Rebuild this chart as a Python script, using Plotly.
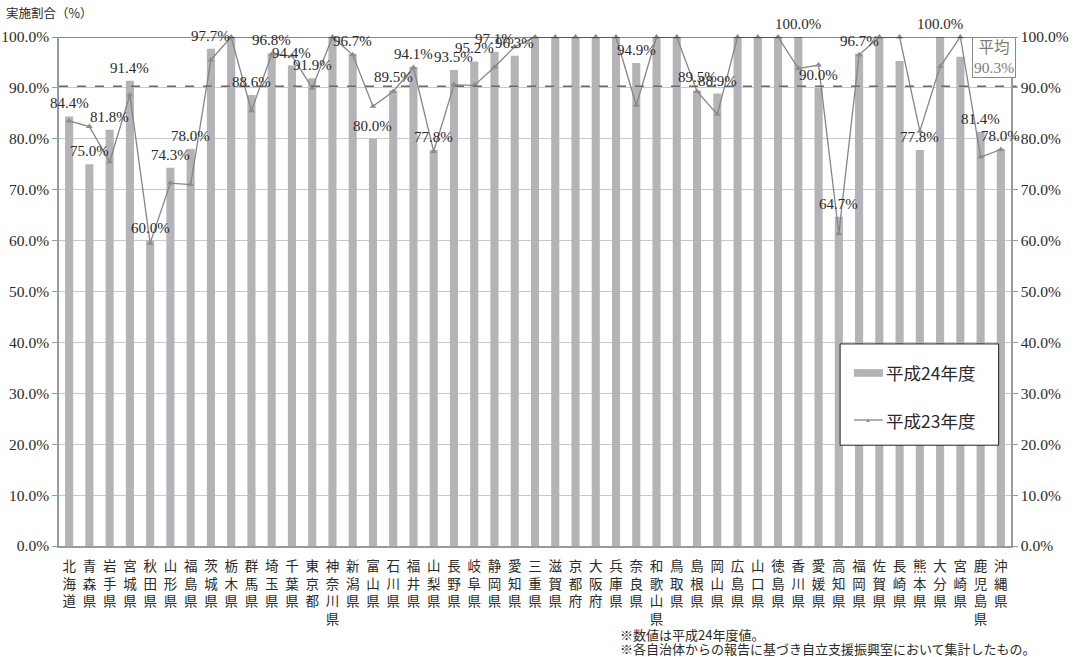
import plotly.graph_objects as go

# Prefectures (x-axis categories)
prefectures = [
    "北海道", "青森県", "岩手県", "宮城県", "秋田県", "山形県", "福島県", "茨城県",
    "栃木県", "群馬県", "埼玉県", "千葉県", "東京都", "神奈川県", "新潟県", "富山県",
    "石川県", "福井県", "山梨県", "長野県", "岐阜県", "静岡県", "愛知県", "三重県",
    "滋賀県", "京都府", "大阪府", "兵庫県", "奈良県", "和歌山県", "鳥取県", "島根県",
    "岡山県", "広島県", "山口県", "徳島県", "香川県", "愛媛県", "高知県", "福岡県",
    "佐賀県", "長崎県", "熊本県", "大分県", "宮崎県", "鹿児島県", "沖縄県",
]

# 平成24年度 implementation rate (%)
fy24 = [
    84.4, 75.0, 81.8, 91.4, 60.0, 74.3, 78.0, 97.7,
    100.0, 88.6, 96.8, 94.4, 91.9, 100.0, 96.7, 80.0,
    89.5, 94.1, 77.8, 93.5, 95.2, 97.1, 96.3, 100.0,
    100.0, 100.0, 100.0, 100.0, 94.9, 100.0, 100.0, 89.5,
    88.9, 100.0, 100.0, 100.0, 100.0, 90.0, 64.7, 96.7,
    100.0, 95.3, 77.8, 100.0, 96.1, 81.4, 78.0,
]

# 平成23年度 implementation rate (%)
fy23 = [
    83.5, 82.4, 75.5, 88.6, 59.5, 71.3, 71.0, 95.5,
    100.0, 85.5, 96.6, 96.3, 90.0, 100.0, 96.5, 86.4,
    89.3, 94.0, 77.5, 90.6, 90.5, 94.1, 98.1, 100.0,
    100.0, 100.0, 100.0, 100.0, 86.6, 100.0, 100.0, 89.3,
    84.8, 100.0, 100.0, 100.0, 93.8, 94.5, 61.4, 96.5,
    100.0, 100.0, 81.5, 94.2, 100.0, 76.4, 77.9,
]

# Which 平成24年度 bars carry a value label
labelled = [
    1, 1, 1, 1, 1, 1, 1, 1,
    0, 1, 1, 1, 1, 0, 1, 1,
    1, 1, 1, 1, 1, 1, 1, 0,
    0, 0, 0, 0, 1, 0, 0, 1,
    1, 0, 0, 0, 1, 1, 1, 1,
    0, 0, 1, 1, 0, 1, 1,
]

average = 90.3
y_ticks = [0, 10, 20, 30, 40, 50, 60, 70, 80, 90, 100]
y_tick_text = [f"{v:.1f}%" for v in y_ticks]

NUM_FONT = "Liberation Serif"
JP_FONT = "Noto Sans CJK JP"
BAR_COLOR = "#b3b3b8"
LINE_COLOR = "#858585"
AXIS_COLOR = "#9a9a9a"
TEXT_COLOR = "#2a2a2a"

# Vertical (one character per line) tick labels
tick_text = ["<br>".join(list(p)) for p in prefectures]

fig = go.Figure()

fig.add_trace(go.Bar(
    x=prefectures, y=fy24, name="平成24年度",
    marker=dict(color=BAR_COLOR, line=dict(width=0)),
    showlegend=False,
))

fig.add_trace(go.Scatter(
    x=prefectures, y=fy23, name="平成23年度", yaxis="y2",
    mode="lines+markers",
    line=dict(color=LINE_COLOR, width=1.3),
    marker=dict(symbol="triangle-up", size=6, color="#8c8c8c"),
    cliponaxis=False, showlegend=False,
))

# Value labels above the labelled bars
for name, val, flag in zip(prefectures, fy24, labelled):
    if flag:
        fig.add_annotation(
            x=name, y=val, xref="x", yref="y",
            text=f"{val:.1f}%", showarrow=False,
            yanchor="bottom", yshift=3,
            font=dict(family=NUM_FONT, size=15, color=TEXT_COLOR),
        )

shapes = [
    # top frame line at 100%
    dict(type="line", xref="paper", yref="y", x0=0, x1=1, y0=100, y1=100,
         line=dict(color="#111111", width=1.2), layer="above"),
    # average (dashed)
    dict(type="line", xref="paper", yref="y", x0=0, x1=1.006, y0=average, y1=average,
         line=dict(color="#6a6a6a", width=1.5, dash="dash"), layer="above"),
    # legend box
    dict(type="rect", xref="paper", yref="paper", x0=0.8205, x1=0.987, y0=0.198, y1=0.397,
         line=dict(color="#222222", width=1), fillcolor="white", layer="above"),
    # bar swatch
    dict(type="rect", xref="paper", yref="paper", x0=0.835, x1=0.8655, y0=0.3325, y1=0.3475,
         line=dict(width=0), fillcolor=BAR_COLOR, layer="above"),
    # line swatch
    dict(type="line", xref="paper", yref="paper", x0=0.835, x1=0.8655, y0=0.2475, y1=0.2475,
         line=dict(color=LINE_COLOR, width=1.3), layer="above"),
]

annotations_extra = [
    dict(xref="paper", yref="paper", x=0.8503, y=0.2475, text="▲", showarrow=False,
         font=dict(size=6, color="#8c8c8c"), xanchor="center", yanchor="middle"),
    dict(xref="paper", yref="paper", x=0.8665, y=0.341, text="平成24年度", showarrow=False,
         xanchor="left", yanchor="middle", font=dict(family=JP_FONT, size=17.5, color=TEXT_COLOR)),
    dict(xref="paper", yref="paper", x=0.8665, y=0.2475, text="平成23年度", showarrow=False,
         xanchor="left", yanchor="middle", font=dict(family=JP_FONT, size=17.5, color=TEXT_COLOR)),
    # average box
    dict(xref="paper", yref="y", x=0.9825, y=96.0, text="平均<br>90.3%", showarrow=False,
         xanchor="center", yanchor="middle", bgcolor="white",
         bordercolor="#8a8a8a", borderwidth=1, borderpad=1,
         font=dict(family=NUM_FONT + ", " + JP_FONT, size=15.5, color="#7a7a7a")),
    # axis title
    dict(xref="paper", yref="paper", x=-0.058, y=1.049, text="実施割合（%）", showarrow=False,
         xanchor="left", yanchor="middle", font=dict(family=JP_FONT, size=12.5, color=TEXT_COLOR)),
    # notes
    dict(xref="paper", yref="paper", x=0.587, y=-0.1745, text="※数値は平成24年度値。", showarrow=False,
         xanchor="left", yanchor="middle", font=dict(family=JP_FONT, size=13, color=TEXT_COLOR)),
    dict(xref="paper", yref="paper", x=0.587, y=-0.2015, showarrow=False,
         text="※各自治体からの報告に基づき自立支援振興室において集計したもの。",
         xanchor="left", yanchor="middle", font=dict(family=JP_FONT, size=13, color=TEXT_COLOR)),
]
for a in annotations_extra:
    fig.add_annotation(**a)

yaxis_common = dict(
    range=[0, 100], tickmode="array", tickvals=y_ticks, ticktext=y_tick_text,
    ticks="outside", ticklen=5, tickcolor=AXIS_COLOR,
    showline=True, linecolor=AXIS_COLOR, linewidth=1.5,
    tickfont=dict(family=NUM_FONT, size=15.5, color=TEXT_COLOR),
    zeroline=False, fixedrange=True, automargin=False,
)

fig.update_layout(
    width=1080, height=657,
    margin=dict(l=59, r=69, t=37, b=111),
    paper_bgcolor="white", plot_bgcolor="white",
    bargap=0.6,
    shapes=shapes,
    xaxis=dict(
        type="category", tickmode="array", tickvals=prefectures, ticktext=tick_text,
        range=[-0.5, len(prefectures) - 0.5],
        tickangle=0, showline=True, linecolor=AXIS_COLOR, linewidth=2,
        ticks="outside", ticklen=7, tickcolor="rgba(0,0,0,0)", showgrid=False,
        tickfont=dict(family=JP_FONT, size=13.5, color=TEXT_COLOR), automargin=False,
    ),
    yaxis=dict(**yaxis_common, showgrid=True, gridcolor="#c9c9c9", gridwidth=1),
    yaxis2=dict(**yaxis_common, overlaying="y", side="right", showgrid=False),
)

fig.write_html("out.html")
